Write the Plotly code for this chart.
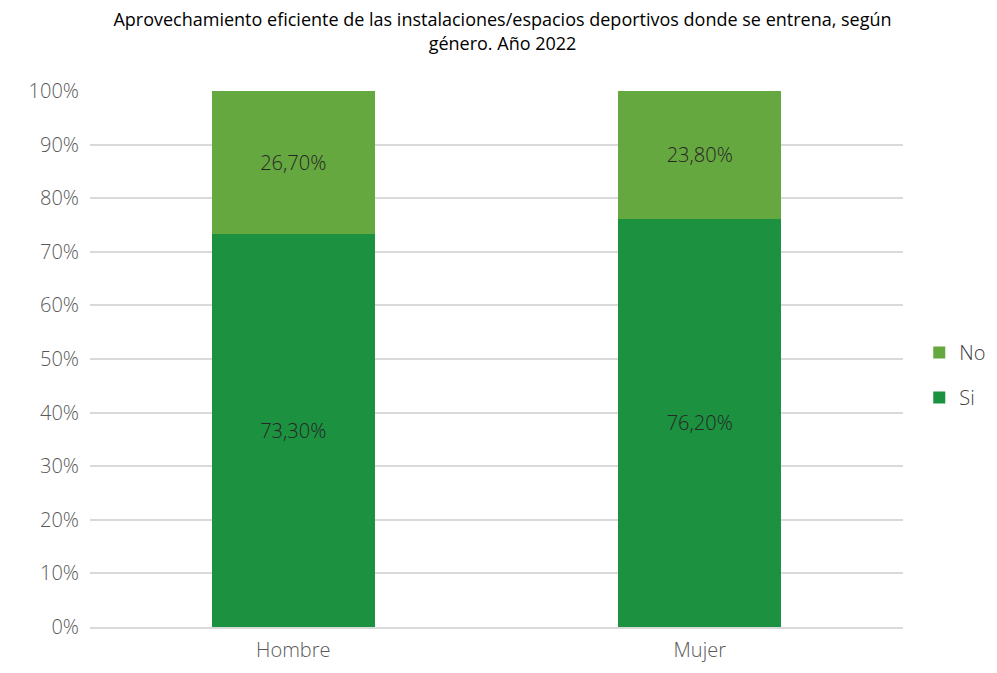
import plotly.graph_objects as go

categories = ["Hombre", "Mujer"]
si_values = [73.3, 76.2]
no_values = [26.7, 23.8]
si_labels = ["73,30%", "76,20%"]
no_labels = ["26,70%", "23,80%"]
tick_vals = [0, 10, 20, 30, 40, 50, 60, 70, 80, 90, 100]
tick_text = [f"{v}%" for v in tick_vals]

FONT = "Open Sans"

fig = go.Figure()
fig.add_trace(go.Bar(
    x=categories, y=si_values, name="Si", text=si_labels, legendgroup="si",
    legendrank=2,
    textposition="inside", insidetextanchor="middle",
    marker=dict(color="#1c9140", line=dict(width=0)),
    textfont=dict(family=FONT, size=20, color="#262626", weight=300),
    width=0.4, hoverinfo="skip",
))
fig.add_trace(go.Bar(
    x=categories, y=no_values, name="No", text=no_labels, legendgroup="no",
    legendrank=1,
    textposition="inside", insidetextanchor="middle",
    marker=dict(color="#66a840", line=dict(width=0)),
    textfont=dict(family=FONT, size=20, color="#262626", weight=300),
    width=0.4, hoverinfo="skip",
))

fig.update_layout(
    barmode="stack",
    width=989, height=657,
    margin=dict(l=82, r=94, t=83, b=38, autoexpand=False),
    paper_bgcolor="white", plot_bgcolor="white",
    title=dict(
        text="Aprovechamiento eficiente de las instalaciones/espacios deportivos donde se entrena, según<br>género. Año 2022",
        x=0.5, xanchor="center", y=0.972, yanchor="top",
        font=dict(family=FONT, size=18, color="#000000"),
    ),
    legend=dict(
        x=1.02, xanchor="left", y=0.47, yanchor="middle",
        traceorder="grouped",
        font=dict(family=FONT, size=20, color="#404040", weight=300),
        tracegroupgap=16,
    ),
    uniformtext=dict(mode=None),
)
fig.update_yaxes(
    range=[0, 100], tickvals=tick_vals, ticktext=tick_text,
    showgrid=True, gridcolor="#d9d9d9", gridwidth=1.5,
    zeroline=False, showline=False, ticks="", ticklabelstandoff=10,
    tickfont=dict(family=FONT, size=20, color="#595959", weight=300),
)
fig.update_xaxes(
    showline=True, linecolor="#d9d9d9", linewidth=1.5,
    ticks="", ticklabelstandoff=4,
    tickfont=dict(family=FONT, size=20, color="#595959", weight=300),
)

fig.write_html("out.html")
